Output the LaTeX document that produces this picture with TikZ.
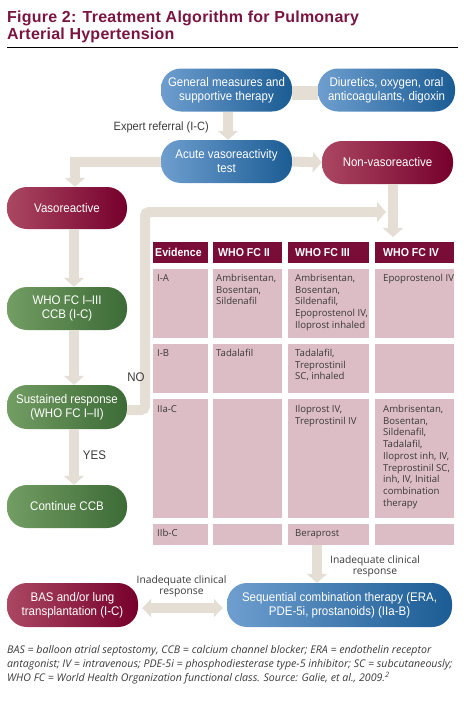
\documentclass[tikz,border=0pt]{standalone}
\usepackage{fontspec}
\setmainfont{Liberation Sans}
\newfontfamily\boxfont[FakeStretch=0.92]{Liberation Sans}
\newfontfamily\tabfont{Open Sans}
\newfontfamily\titlefont[LetterSpace=1.5]{Liberation Sans}
\usetikzlibrary{arrows.meta,positioning,calc}
\definecolor{ttlRed}{HTML}{7A1541}
\definecolor{hdRed}{HTML}{7A0C38}
\definecolor{cellPink}{HTML}{DDBDC5}
\definecolor{bluL}{HTML}{6E9ECF}
\definecolor{bluD}{HTML}{1B5C94}
\definecolor{redL}{HTML}{AA4762}
\definecolor{redD}{HTML}{76002C}
\definecolor{grnL}{HTML}{729D63}
\definecolor{grnD}{HTML}{3D6B36}
\definecolor{beige}{HTML}{E4DED5}
\definecolor{txtGray}{HTML}{3A3A3A}

\begin{document}
\begin{tikzpicture}[x=1pt,y=-1pt,
    pill/.style={rounded corners=20pt,minimum height=43pt,align=center,text=white,inner sep=2pt,font=\boxfont\fontsize{12.5}{14}\selectfont},
    bluepill/.style={pill,left color=bluL,right color=bluD},
    redpill/.style={pill,left color=redL,right color=redD},
    greenpill/.style={pill,left color=grnL,right color=grnD},
    barr/.style={line width=10pt,draw=beige,-{Triangle[width=20pt,length=9pt]}},
    hd/.style={text=white,font=\boxfont\bfseries\fontsize{11.5}{13}\selectfont,anchor=west,inner sep=0pt},
    cell/.style={text=txtGray,font=\tabfont\fontsize{9.6}{11.7}\selectfont,anchor=north west,inner sep=0pt,align=left},
    lbl/.style={text=txtGray,font=\tabfont\fontsize{10.3}{11.5}\selectfont,align=center,inner sep=0pt}]
  \useasboundingbox (0,0) rectangle (472,702);
  \node[anchor=north west,inner sep=0pt,align=left,text=ttlRed,font=\titlefont\bfseries\fontsize{16}{16.5}\selectfont] (title) at (7,11) {Figure 2: Treatment Algorithm for Pulmonary\\Arterial Hypertension};
  \draw[line width=0.8pt] (7,47) -- (458,47);
  % flow boxes
  \node[bluepill,minimum width=131pt] (gen) at (226.5,90) {General measures and\\supportive therapy};
  \node[bluepill,minimum width=137pt] (diur) at (386.5,90) {Diuretics, oxygen, oral\\anticoagulants, digoxin};
  \node[bluepill,minimum width=131pt] (acute) at (226.5,161.5) {Acute vasoreactivity\\test};
  \node[redpill,minimum width=131pt] (nonvaso) at (387.5,162.5) {Non-vasoreactive};
  \node[redpill,minimum width=120pt,minimum height=42pt] (vaso) at (67,208) {Vasoreactive};
  \node[greenpill,minimum width=120pt] (ccb) at (67,308.5) {WHO FC I–III\\CCB (I-C)};
  \node[greenpill,minimum width=120pt,minimum height=44pt] (sust) at (67,407) {Sustained response\\(WHO FC I–II)};
  \node[greenpill,minimum width=120pt] (cont) at (67,506.5) {Continue CCB};
  \node[redpill,minimum width=131pt,minimum height=44pt] (bas) at (72.5,605) {BAS and/or lung\\transplantation (I-C)};
  \node[bluepill,minimum width=225pt,minimum height=44pt] (seq) at (339.5,605) {Sequential combination therapy (ERA,\\PDE-5i, prostanoids) (IIa-B)};
  % table
  \foreach \xa/\xb in {153/208,213/282,288/369,375/454}{
    \fill[hdRed] (\xa,242) rectangle (\xb,263);
    \foreach \ya/\yb in {269/338,344/393,399/518,524/545}
      \fill[cellPink] (\xa,\ya) rectangle (\xb,\yb);
  }
  \node[hd] (hev) at (155,252.5) {Evidence};
  \node[hd] (hii) at (218,252.5) {WHO FC II};
  \node[hd] (hiii) at (295,252.5) {WHO FC III};
  \node[hd] (hiv) at (383,252.5) {WHO FC IV};
  \node[cell] (ia) at (157,274) {I-A};
  \node[cell] (iaii) at (216,274) {Ambrisentan,\\Bosentan,\\Sildenafil};
  \node[cell] (iaiii) at (295,274) {Ambrisentan,\\Bosentan,\\Sildenafil,\\Epoprostenol IV,\\Iloprost inhaled};
  \node[cell] (iaiv) at (383,274) {Epoprostenol IV};
  \node[cell] (ib) at (157,349) {I-B};
  \node[cell] (ibii) at (216,349) {Tadalafil};
  \node[cell] (ibiii) at (295,349) {Tadalafil,\\Treprostinil\\SC, inhaled};
  \node[cell] (iia) at (157,405) {IIa-C};
  \node[cell] (iiaiii) at (295,405) {Iloprost IV,\\Treprostinil IV};
  \node[cell] (iiaiv) at (383,405) {Ambrisentan,\\Bosentan,\\Sildenafil,\\Tadalafil,\\Iloprost inh, IV,\\Treprostinil SC,\\inh, IV, Initial\\combination\\therapy};
  \node[cell] (iib) at (157,529) {IIb-C};
  \node[cell] (iibiii) at (295,529) {Beraprost};
  % connectors
  \coordinate (noturn) at (145,212);
  \coordinate (noend) at (386,212);
  \coordinate (tabin) at (393,237);
  \coordinate (tabout) at (317,545);
  \draw[line width=14pt,draw=beige] ([yshift=-3pt]gen.east) -- ([yshift=-3pt]diur.west);
  \draw[barr] ([xshift=1.5pt]gen.south) -- ([xshift=1.5pt]acute.north);
  \draw[barr] (acute.east) -- (nonvaso.west);
  \draw[barr] (acute.west) -| ([xshift=8pt]vaso.north);
  \draw[barr] ([xshift=5.5pt]nonvaso.south) -- (tabin);
  \draw[barr] ([xshift=7pt]vaso.south) -- ([xshift=7pt]ccb.north);
  \draw[barr] ([xshift=7pt]ccb.south) -- ([xshift=7pt]sust.north);
  \draw[barr] ([xshift=7pt]sust.south) -- ([xshift=7pt]cont.north);
  \draw[barr,rounded corners=4pt] ([yshift=-3pt]sust.east) -| (noturn) -- (noend);
  \draw[barr] (tabout) -- (tabout |- seq.north);
  \draw[barr,{Triangle[width=18pt,length=9pt]}-{Triangle[width=18pt,length=9pt]},shorten <=4pt,shorten >=4pt] ([yshift=-3pt]bas.east) -- ([yshift=-3pt]seq.west);
  % labels
  \node[anchor=east,inner sep=0pt,text=txtGray,font=\boxfont\fontsize{12}{14}\selectfont] (refl) at (209,127) {Expert referral (I-C)};
  \node[inner sep=0pt,text=txtGray,font=\boxfont\fontsize{12.5}{14}\selectfont] (nol) at (136,377) {NO};
  \node[inner sep=0pt,text=txtGray,font=\boxfont\fontsize{12.5}{14}\selectfont] (yesl) at (94.5,455) {YES};
  \node[lbl] (resp1) at (375,566.5) {Inadequate clinical\\response};
  \node[lbl] (resp2) at (181.5,586.5) {Inadequate clinical\\response};
  \node[anchor=north west,inner sep=0pt,align=left,text=txtGray,font=\tabfont\itshape\fontsize{10.6}{14.3}\selectfont] (foot) at (7,645) {BAS = balloon atrial septostomy, CCB = calcium channel blocker; ERA = endothelin receptor\\antagonist; IV = intravenous; PDE-5i = phosphodiesterase type-5 inhibitor; SC = subcutaneously;\\WHO FC = World Health Organization functional class. Source: Galie, et al., 2009.\textsuperscript{2}};
\end{tikzpicture}
\end{document}
